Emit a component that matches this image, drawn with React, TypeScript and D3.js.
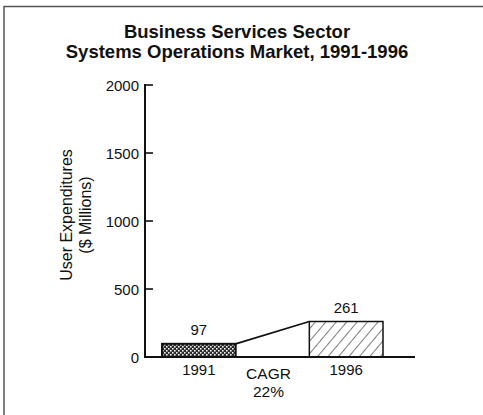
import React from "react";
import * as d3 from "d3";

// Market size by year ($ millions)
const years = ["1991", "1996"];
const values = [97, 261];
const slots = ["1991", "CAGR", "1996"];
const yTicks = [0, 500, 1000, 1500, 2000];
const cagrLabel = ["CAGR", "22%"];
const titleLines = ["Business Services Sector", "Systems Operations Market, 1991-1996"];
const yTitleLines = ["User Expenditures", "($ Millions)"];

const W = 483;
const H = 415;
const FONT = "'Liberation Sans', Arial, Helvetica, sans-serif";

export default function App() {
  const axisX = 145;
  const baseY = 357;
  const y = d3.scaleLinear().domain([0, 2000]).range([baseY, 85]);
  const x = d3.scaleBand<string>().domain(slots).range([162, 383]).padding(0);
  const bw = x.bandwidth();

  const x0 = x(years[0])!;
  const x1 = x(years[1])!;
  const y0 = y(values[0]);
  const y1 = y(values[1]);

  return (
    <svg
      width={W}
      height={H}
      style={{ position: "absolute", left: 0, top: 0, background: "#fff" }}
      fontFamily={FONT}
    >
      <defs>
        <pattern id="cross" width={4} height={4} patternUnits="userSpaceOnUse">
          <rect width={4} height={4} fill="#2a2a2a" />
          <rect x={0} y={0} width={1.6} height={1.6} fill="#f2f2f2" />
          <rect x={2} y={2} width={1.6} height={1.6} fill="#f2f2f2" />
        </pattern>
        <pattern
          id="hatch"
          width={8}
          height={8}
          patternUnits="userSpaceOnUse"
          patternTransform="rotate(40)"
        >
          <rect width={8} height={8} fill="#fff" />
          <line x1={0} y1={0} x2={0} y2={8} stroke="#111" strokeWidth={1.1} />
        </pattern>
      </defs>

      {/* page frame */}
      <line x1={4} y1={6.5} x2={483} y2={6.5} stroke="#555" strokeWidth={1.5} />
      <line x1={4} y1={6} x2={4} y2={415} stroke="#555" strokeWidth={1.5} />

      {/* title */}
      {titleLines.map((t, i) => (
        <text
          key={t}
          x={237}
          y={38 + i * 20}
          textAnchor="middle"
          fontSize={18.5}
          fontWeight="bold"
          fill="#111"
        >
          {t}
        </text>
      ))}

      {/* y-axis title */}
      <g transform="translate(0,215)">
        {yTitleLines.map((t, i) => (
          <text
            key={t}
            transform={`translate(${72 + i * 19},0) rotate(-90)`}
            textAnchor="middle"
            fontSize={16}
            fill="#111"
          >
            {t}
          </text>
        ))}
      </g>

      {/* y axis */}
      <line x1={axisX} y1={y(2000) - 1} x2={axisX} y2={baseY + 1} stroke="#111" strokeWidth={2} />
      {yTicks.map((v) => (
        <g key={v}>
          <line x1={axisX} x2={axisX + 8} y1={y(v)} y2={y(v)} stroke="#111" strokeWidth={1.6} />
          <text x={139} y={y(v) + 5.5} textAnchor="end" fontSize={15} fill="#111">
            {v}
          </text>
        </g>
      ))}

      {/* bars */}
      <rect
        x={x0}
        y={y0}
        width={bw}
        height={baseY - y0}
        fill="url(#cross)"
        stroke="#111"
        strokeWidth={2}
      />
      <rect
        x={x1}
        y={y1}
        width={bw}
        height={baseY - y1}
        fill="url(#hatch)"
        stroke="#111"
        strokeWidth={1.5}
      />

      {/* growth connector */}
      <line x1={x0 + bw} y1={y0} x2={x1} y2={y1} stroke="#111" strokeWidth={1.8} />

      {/* baseline */}
      <line x1={axisX} x2={415} y1={baseY} y2={baseY} stroke="#111" strokeWidth={2} />

      {/* value labels */}
      {years.map((yr, i) => (
        <text
          key={"v" + yr}
          x={x(yr)! + bw / 2}
          y={y(values[i]) - 8.5}
          textAnchor="middle"
          fontSize={15}
          fill="#111"
        >
          {values[i]}
        </text>
      ))}

      {/* category labels */}
      {years.map((yr) => (
        <text key={yr} x={x(yr)! + bw / 2} y={375} textAnchor="middle" fontSize={15} fill="#111">
          {yr}
        </text>
      ))}
      {cagrLabel.map((t, i) => (
        <text
          key={t}
          x={x("CAGR")! + bw / 2 - 4}
          y={379 + i * 18}
          textAnchor="middle"
          fontSize={15.5}
          fill="#111"
        >
          {t}
        </text>
      ))}
    </svg>
  );
}
